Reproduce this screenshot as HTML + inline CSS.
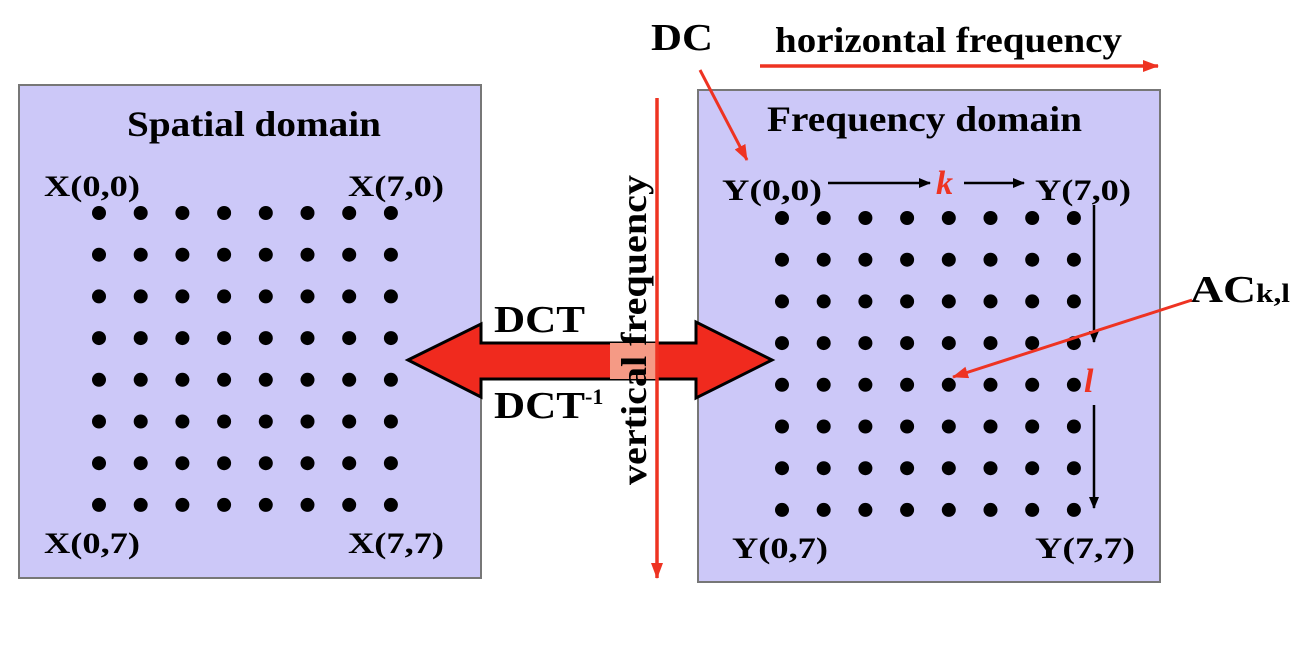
<!DOCTYPE html>
<html><head><style>
html,body{margin:0;padding:0;background:#fff;}
svg{display:block;}
text{font-family:"Liberation Serif",serif;font-weight:bold;}
</style></head><body>
<svg width="1304" height="653" viewBox="0 0 1304 653" xmlns="http://www.w3.org/2000/svg">
<defs>
<marker id="rh" markerWidth="16" markerHeight="12" refX="15" refY="6" orient="auto" markerUnits="userSpaceOnUse"><path d="M0,0 L16,6 L0,12 z" fill="#ee3322"/></marker>
<marker id="bh" markerWidth="12" markerHeight="10" refX="11" refY="5" orient="auto" markerUnits="userSpaceOnUse"><path d="M0,0 L12,5 L0,10 z" fill="#000"/></marker>
</defs>
<rect x="19" y="85" width="462" height="493" fill="#ccc8f8" stroke="#777" stroke-width="2"/>
<rect x="698" y="90" width="462" height="492" fill="#ccc8f8" stroke="#777" stroke-width="2"/>
<text x="127" y="136" font-size="36" textLength="254" lengthAdjust="spacingAndGlyphs">Spatial domain</text>
<text x="767" y="131" font-size="36" textLength="315" lengthAdjust="spacingAndGlyphs">Frequency domain</text>
<text x="44" y="196" font-size="30" textLength="96" lengthAdjust="spacingAndGlyphs">X(0,0)</text>
<text x="348" y="196" font-size="30" textLength="96" lengthAdjust="spacingAndGlyphs">X(7,0)</text>
<text x="44" y="553" font-size="30" textLength="96" lengthAdjust="spacingAndGlyphs">X(0,7)</text>
<text x="348" y="553" font-size="30" textLength="96" lengthAdjust="spacingAndGlyphs">X(7,7)</text>
<text x="722" y="200" font-size="30" textLength="100" lengthAdjust="spacingAndGlyphs">Y(0,0)</text>
<text x="1035" y="200" font-size="30" textLength="96" lengthAdjust="spacingAndGlyphs">Y(7,0)</text>
<text x="732" y="558" font-size="30" textLength="96" lengthAdjust="spacingAndGlyphs">Y(0,7)</text>
<text x="1035" y="558" font-size="30" textLength="100" lengthAdjust="spacingAndGlyphs">Y(7,7)</text>
<g fill="#000" id="dots"></g>
<line x1="828" y1="183" x2="930" y2="183" stroke="#000" stroke-width="2.5" marker-end="url(#bh)"/>
<text x="936" y="194" font-size="34" font-style="italic" fill="#ee3322">k</text>
<line x1="964" y1="183" x2="1024" y2="183" stroke="#000" stroke-width="2.5" marker-end="url(#bh)"/>
<line x1="1094" y1="205" x2="1094" y2="342" stroke="#000" stroke-width="2.5" marker-end="url(#bh)"/>
<text x="1084" y="392" font-size="34" font-style="italic" fill="#ee3322">l</text>
<line x1="1094" y1="405" x2="1094" y2="508" stroke="#000" stroke-width="2.5" marker-end="url(#bh)"/>
<text x="1190" y="302" font-size="38" textLength="100" lengthAdjust="spacingAndGlyphs">AC<tspan font-size="26">k,l</tspan></text>
<line x1="1192" y1="300" x2="953" y2="377" stroke="#ee3322" stroke-width="3" marker-end="url(#rh)"/>
<text x="651" y="50" font-size="38" textLength="62" lengthAdjust="spacingAndGlyphs">DC</text>
<line x1="700" y1="70" x2="747" y2="160" stroke="#ee3322" stroke-width="3" marker-end="url(#rh)"/>
<text x="775" y="52" font-size="36" textLength="347" lengthAdjust="spacingAndGlyphs">horizontal frequency</text>
<line x1="760" y1="66" x2="1158" y2="66" stroke="#ee3322" stroke-width="3.5" marker-end="url(#rh)"/>
<path d="M408,360 L481,324 L481,343 L696,343 L696,322 L772,360 L696,398 L696,379 L481,379 L481,397 Z" fill="#f02a1e" stroke="#000" stroke-width="3"/>
<rect x="610" y="343" width="46" height="36" fill="#f59a85"/>
<text x="494" y="332" font-size="38" textLength="91" lengthAdjust="spacingAndGlyphs">DCT</text>
<text x="494" y="418" font-size="38"><tspan textLength="91" lengthAdjust="spacingAndGlyphs">DCT</tspan><tspan font-size="22" dy="-14">-1</tspan></text>
<line x1="657" y1="98" x2="657" y2="578" stroke="#ee3322" stroke-width="3.5" marker-end="url(#rh)"/>
<text transform="translate(646,485) rotate(-90)" font-size="36" textLength="310" lengthAdjust="spacingAndGlyphs">vertical frequency</text>
</svg>
<script>
var g=document.getElementById('dots'),ns="http://www.w3.org/2000/svg";
function grid(x0,y0){for(var i=0;i<8;i++)for(var j=0;j<8;j++){var c=document.createElementNS(ns,'circle');c.setAttribute('cx',x0+i*41.7);c.setAttribute('cy',y0+j*41.7);c.setAttribute('r',7);g.appendChild(c);}}
grid(99,213);grid(782,218);
</script>
</body></html>
